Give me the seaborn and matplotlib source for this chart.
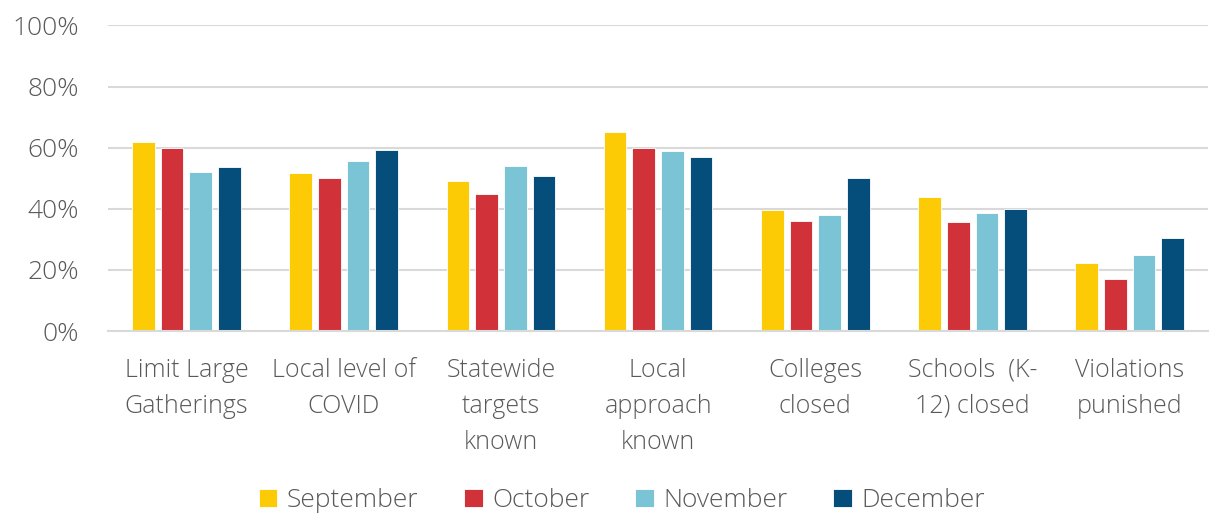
import matplotlib
matplotlib.use("Agg")
import matplotlib.pyplot as plt
import seaborn as sns
import pandas as pd
from matplotlib.ticker import FuncFormatter

categories = ["Limit Large\nGatherings", "Local level of\nCOVID", "Statewide\ntargets\nknown",
              "Local\napproach\nknown", "Colleges\nclosed", "Schools  (K-\n12) closed",
              "Violations\npunished"]
months = ["September", "October", "November", "December"]
september = [62.0, 51.6, 49.0, 65.1, 39.6, 43.9, 22.4]
october = [60.0, 50.0, 45.0, 60.0, 36.1, 35.6, 17.0]
november = [52.0, 55.7, 54.0, 59.0, 38.0, 38.7, 24.8]
december = [53.6, 59.3, 50.6, 56.8, 50.2, 40.0, 30.6]
colors = ["#FDCB05", "#D13239", "#7AC4D5", "#054E7C"]

rows = []
for m, vals in zip(months, [september, october, november, december]):
    for c, v in zip(categories, vals):
        rows.append({"category": c, "month": m, "value": v})
df = pd.DataFrame(rows)

sns.set_theme(style="white")
plt.rcParams["font.family"] = ["Open Sans", "DejaVu Sans"]
plt.rcParams["font.weight"] = "light"
text_color = "#595959"

fig = plt.figure(figsize=(12.12, 5.19), dpi=100)
ax = fig.add_axes([0.089, 0.362, 0.908, 0.589])
sns.barplot(data=df, x="category", y="value", hue="month", hue_order=months,
            palette=colors, width=0.73, gap=0.21, ax=ax, saturation=1,
            edgecolor="white", linewidth=0.6)

ax.set_ylim(0, 100)
ax.set_yticks([0, 20, 40, 60, 80, 100])
ax.yaxis.set_major_formatter(FuncFormatter(lambda v, p: f"{v:.0f}%"))
ax.yaxis.grid(True, color="#D9D9D9", linewidth=1.5)
ax.set_axisbelow(True)
for s in ["top", "right", "left"]:
    ax.spines[s].set_visible(False)
ax.spines["bottom"].set_color("#D9D9D9")
ax.spines["bottom"].set_linewidth(1.5)
ax.set_xlim(-0.5, 6.5)
ax.set_xlabel("")
ax.set_ylabel("")
ax.tick_params(axis="x", length=0, labelsize=18, colors=text_color, pad=19)
ax.tick_params(axis="y", length=0, labelsize=19, colors=text_color, pad=21)
for lbl in ax.get_xticklabels():
    lbl.set_linespacing(1.58)

ax.legend_.remove()
handles, labels = ax.get_legend_handles_labels()
fig.legend(handles[:4], labels[:4], loc="center", bbox_to_anchor=(0.513, 0.035), ncol=4,
           frameon=False, fontsize=19, labelcolor=text_color, handlelength=0.7,
           handleheight=0.7, handletextpad=0.35, columnspacing=1.75)

fig.savefig("out.png", dpi=100)
